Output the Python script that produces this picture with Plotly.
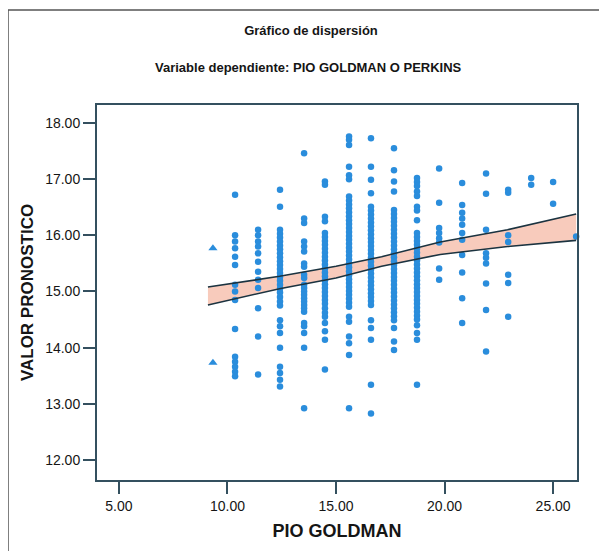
import plotly.graph_objects as go

# ---- data ----
col_x = [9.33, 10.35, 11.41, 12.42, 13.53, 14.49, 15.60, 16.61, 17.67,
         18.73, 19.75, 20.81, 21.91, 22.93, 23.99, 25.00, 26.06]

y_c01 = [15.77, 13.73]
y_c02 = [16.72, 16.00, 15.89, 15.77, 15.62, 15.47, 15.12, 15.00, 14.85, 14.33,
         13.84, 13.75, 13.66, 13.57, 13.49]
y_c03 = [16.10, 16.00, 15.89, 15.80, 15.68, 15.53, 15.35, 15.21, 15.06, 14.70,
         14.20, 13.52]
y_c04 = [16.81, 16.51, 16.10, 16.03, 15.96, 15.89, 15.82, 15.75, 15.68, 15.61,
         15.54, 15.47, 15.40, 15.33, 15.26, 15.19, 15.12, 15.05, 14.98, 14.90,
         14.82, 14.75, 14.49, 14.38, 14.26, 14.00, 13.66, 13.55, 13.43, 13.31]
y_c05 = [17.46, 16.30, 16.22, 15.89, 15.80, 15.71, 15.50, 15.44, 15.30, 15.24,
         15.12, 15.06, 15.00, 14.94, 14.88, 14.82, 14.76, 14.70, 14.64, 14.44,
         14.38, 14.26, 14.00, 12.92]
y_c06 = [16.96, 16.90, 16.33, 16.25, 16.04, 15.97, 15.90, 15.83, 15.76, 15.69,
         15.62, 15.55, 15.48, 15.41, 15.34, 15.27, 15.20, 15.13, 15.06, 14.99,
         14.92, 14.85, 14.78, 14.70, 14.62, 14.55, 14.44, 14.29, 14.14, 13.61]
y_c07 = [17.76, 17.70, 17.61, 17.22, 17.07, 17.00, 16.69, 16.62, 16.55, 16.48,
         16.41, 16.34, 16.27, 16.20, 16.13, 16.06, 15.99, 15.92, 15.85, 15.78,
         15.71, 15.64, 15.57, 15.50, 15.43, 15.36, 15.29, 15.22, 15.15, 15.08,
         15.01, 14.94, 14.87, 14.80, 14.73, 14.55, 14.46, 14.20, 14.08, 13.87,
         12.92]
y_c08 = [17.73, 17.22, 16.99, 16.75, 16.51, 16.44, 16.37, 16.30, 16.23, 16.16,
         16.09, 16.02, 15.95, 15.88, 15.81, 15.74, 15.67, 15.60, 15.53, 15.46,
         15.39, 15.32, 15.25, 15.18, 15.11, 15.04, 14.97, 14.90, 14.83, 14.76,
         14.49, 14.35, 14.14, 13.34, 12.83]
y_c09 = [17.55, 17.16, 16.96, 16.78, 16.45, 16.38, 16.31, 16.24, 16.17, 16.10,
         16.03, 15.96, 15.89, 15.82, 15.75, 15.68, 15.61, 15.54, 15.47, 15.40,
         15.33, 15.26, 15.19, 15.12, 15.05, 14.98, 14.91, 14.84, 14.77, 14.70,
         14.63, 14.56, 14.49, 14.35, 14.11, 13.96]
y_c10 = [17.02, 16.95, 16.88, 16.78, 16.70, 16.51, 16.44, 16.27, 16.04, 15.97,
         15.90, 15.83, 15.76, 15.69, 15.62, 15.55, 15.48, 15.41, 15.34, 15.27,
         15.20, 15.13, 15.06, 14.99, 14.92, 14.85, 14.78, 14.71, 14.64, 14.57,
         14.50, 14.40, 14.26, 14.14, 13.34]
y_c11 = [17.19, 16.58, 16.13, 16.04, 15.95, 15.87, 15.41, 15.21]
y_c12 = [16.93, 16.54, 16.40, 16.30, 16.19, 16.04, 15.92, 15.65, 15.34, 14.88,
         14.44]
y_c13 = [17.10, 16.74, 16.10, 15.68, 15.60, 15.50, 15.14, 14.67, 13.93]
y_c14 = [16.81, 16.76, 16.00, 15.88, 15.30, 15.15, 14.55]
y_c15 = [17.02, 16.90]
y_c16 = [16.95, 16.56]
y_c17 = [15.98]

col_y = [y_c01, y_c02, y_c03, y_c04, y_c05, y_c06, y_c07, y_c08, y_c09,
         y_c10, y_c11, y_c12, y_c13, y_c14, y_c15, y_c16, y_c17]

# confidence band of the fit line
ci_x = [9.10, 12.40, 15.00, 17.10, 19.80, 22.90, 26.06]
ci_upper = [15.08, 15.27, 15.45, 15.62, 15.88, 16.10, 16.38]
ci_lower = [14.76, 15.05, 15.24, 15.45, 15.66, 15.80, 15.91]

x_ticks = [5, 10, 15, 20, 25]
x_tick_labels = ["5.00", "10.00", "15.00", "20.00", "25.00"]
y_ticks = [12, 13, 14, 15, 16, 17, 18]
y_tick_labels = ["12.00", "13.00", "14.00", "15.00", "16.00", "17.00", "18.00"]

# ---- figure ----
FONT = "Liberation Sans, Arial, sans-serif"
AXIS_COL = "#34505f"
PT_COL = "#2a8ddc"
TXT = "#151515"

# page has an 8px body margin: figure is laid out in page px minus 8
OFF = 8
W, H = 607 - OFF, 551 - OFF
PL, PR, PT, PB = 97, 577, 105, 480  # plot area in page pixels

fig = go.Figure()

fig.add_trace(go.Scatter(x=ci_x, y=ci_lower, mode="lines", line=dict(width=0),
                         showlegend=False, hoverinfo="skip"))
fig.add_trace(go.Scatter(x=ci_x, y=ci_upper, mode="lines", line=dict(width=0),
                         fill="tonexty", fillcolor="rgba(245,186,166,0.75)",
                         showlegend=False, hoverinfo="skip"))

for i, (cx, ys) in enumerate(zip(col_x, col_y)):
    fig.add_trace(go.Scatter(
        x=[cx] * len(ys), y=ys, mode="markers",
        marker=dict(color=PT_COL, size=8 if i == 0 else 6.5,
                    symbol="triangle-up" if i == 0 else "circle",
                    line=dict(width=0)),
        cliponaxis=False, showlegend=False))

for ys in (ci_upper, ci_lower):
    fig.add_trace(go.Scatter(x=ci_x, y=ys, mode="lines",
                             line=dict(color="#1b3340", width=1.6),
                             showlegend=False, hoverinfo="skip"))

fig.update_layout(
    width=W, height=H,
    margin=dict(l=PL - OFF, r=W - (PR - OFF), t=PT - OFF, b=H - (PB - OFF)),
    paper_bgcolor="white", plot_bgcolor="white",
    font=dict(family=FONT, color=TXT),
    title=dict(text="<b>Gráfico de dispersión</b>", x=(311 - OFF) / W,
               xref="container", xanchor="center", y=1 - (30 - OFF) / H,
               yanchor="middle", font=dict(size=13, family=FONT, color=TXT)),
    showlegend=False,
)

pw, ph = PR - PL, PB - PT
fig.add_annotation(text="<b>Variable dependiente: PIO GOLDMAN O PERKINS</b>",
                   xref="paper", yref="paper", x=(308 - PL) / pw,
                   y=(PB - 68) / ph, xanchor="center", yanchor="middle",
                   showarrow=False, font=dict(size=13, family=FONT, color=TXT))

fig.update_xaxes(range=[3.99, 26.1], tickvals=x_ticks, ticktext=x_tick_labels,
                 ticks="outside", ticklen=12, tickwidth=1.5, tickcolor=AXIS_COL,
                 showline=True, linecolor=AXIS_COL, linewidth=2, mirror=True,
                 showgrid=False, zeroline=False, automargin=False,
                 tickfont=dict(size=14, family=FONT, color=TXT),
                 title=dict(text="<b>PIO GOLDMAN</b>", standoff=12,
                            font=dict(size=18, family=FONT, color=TXT)))
fig.update_yaxes(range=[11.644, 18.32], tickvals=y_ticks, ticktext=y_tick_labels,
                 ticks="outside", ticklen=12, tickwidth=1.5, tickcolor=AXIS_COL,
                 showline=True, linecolor=AXIS_COL, linewidth=2, mirror=True,
                 showgrid=False, zeroline=False, automargin=False,
                 tickfont=dict(size=14, family=FONT, color=TXT),
                 title=dict(text="<b>VALOR PRONOSTICO</b>", standoff=7,
                            font=dict(size=17, family=FONT, color=TXT)))

# outer frame of the figure
fig.add_shape(type="rect", xref="paper", yref="paper",
              x0=(8 - PL) / pw, x1=(601 - PL) / pw,
              y0=(PB - 570) / ph, y1=(PB - 10) / ph,
              line=dict(color="#555555", width=1.5), fillcolor="rgba(0,0,0,0)")

fig.write_html("out.html")
